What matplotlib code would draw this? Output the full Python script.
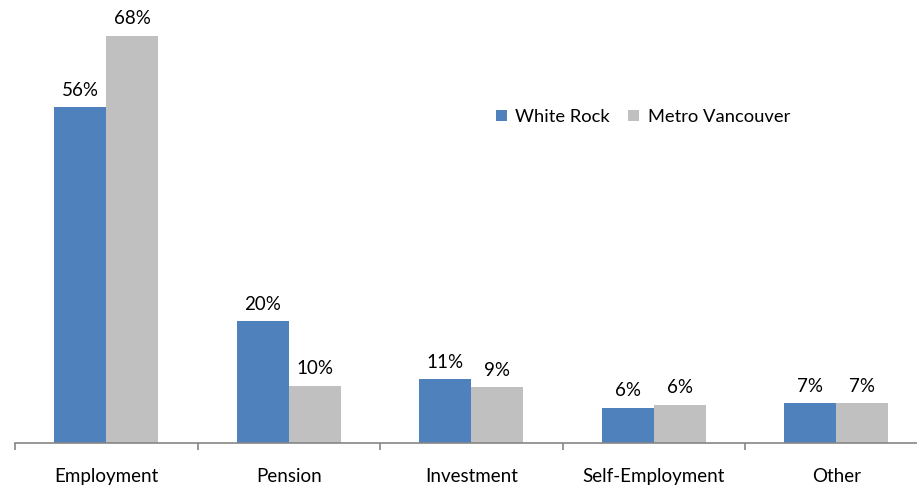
import matplotlib
matplotlib.use("Agg")
import matplotlib.pyplot as plt
from matplotlib.patches import Patch
import numpy as np

categories = ["Employment", "Pension", "Investment", "Self-Employment", "Other"]
white_rock = [56.0, 20.3, 10.6, 5.8, 6.6]
metro_vancouver = [68.0, 9.5, 9.2, 6.3, 6.6]
series_names = ["White Rock", "Metro Vancouver"]
colors = ["#4F81BD", "#C0C0C0"]

plt.rcParams['font.family'] = ['Lato', 'DejaVu Sans']
FS = 13.5

fig = plt.figure(figsize=(9.17, 4.86), dpi=100)
ax = fig.add_axes([15/917, 43.5/486, 912.5/917, (70*5.985)/486])

x = np.arange(len(categories))
w = 0.285
for i, (vals, c) in enumerate(zip([white_rock, metro_vancouver], colors)):
    pos = x + (i - 0.5) * w
    ax.bar(pos, vals, width=w, color=c, edgecolor='none', zorder=2)
    for px, v in zip(pos, vals):
        lbl = f"{int(np.floor(v + 0.5))}%"
        ax.text(px, v + 1.4, lbl, ha='center', va='bottom', fontsize=FS, color='black')

ax.set_xlim(-0.5, len(categories) - 0.5)
ax.set_ylim(0, 70)
ax.set_yticks([])
for s in ['top', 'right', 'left']:
    ax.spines[s].set_visible(False)
ax.spines['bottom'].set_color('#868686')
ax.spines['bottom'].set_linewidth(1.2)

ax.set_xticks(x)
ax.set_xticklabels(categories, fontsize=FS)
ax.tick_params(axis='x', which='major', length=0, pad=18)
ax.set_xticks(np.arange(-0.5, len(categories), 1.0), minor=True)
ax.tick_params(axis='x', which='minor', length=5, color='#868686', width=1.2)

handles = [Patch(facecolor=c, edgecolor='none') for c in colors]
fig.legend(handles, series_names, loc='center', bbox_to_anchor=(643/917, (486-117)/486),
           ncol=2, frameon=False, fontsize=13.2, handlelength=0.6, handleheight=0.6,
           handletextpad=0.45, columnspacing=1.0)

fig.savefig("out.png", dpi=100)
